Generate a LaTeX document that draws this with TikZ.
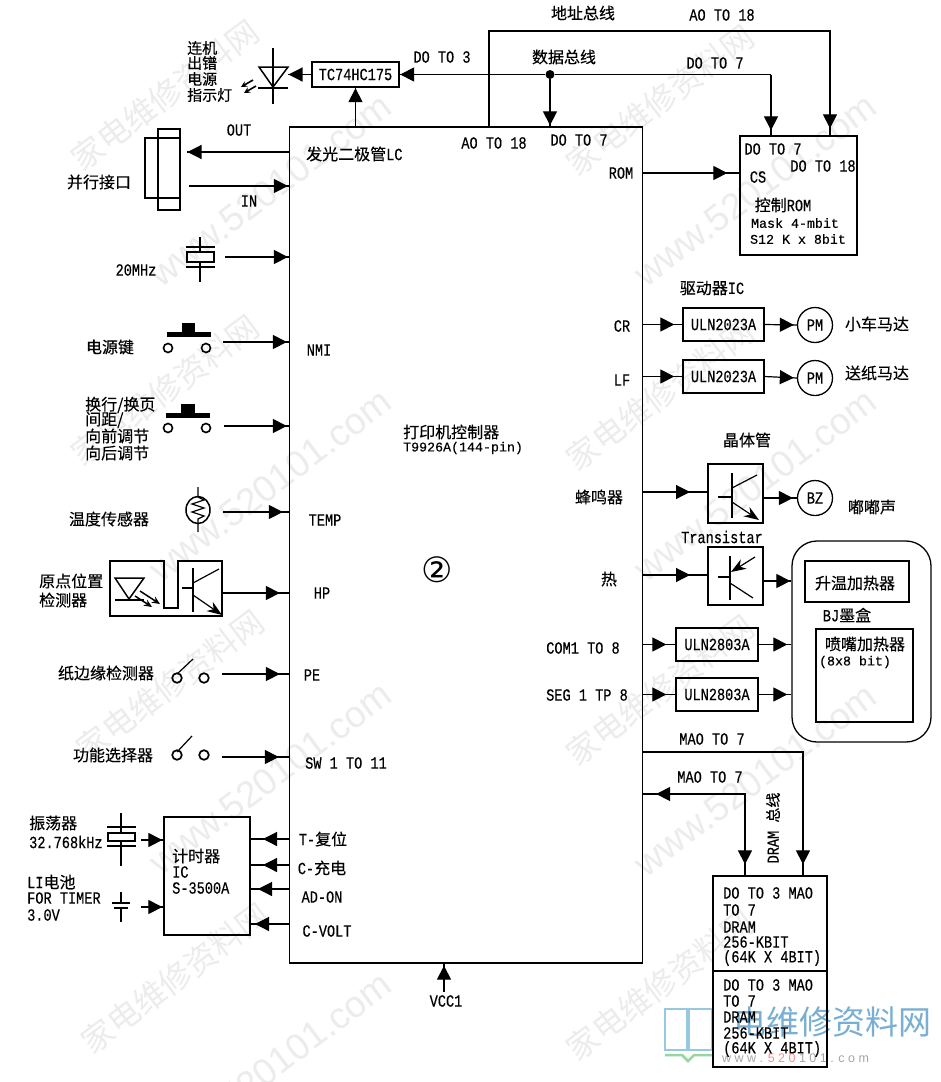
\documentclass[tikz,border=0pt]{standalone}
\usepackage{fontspec}
\setmainfont{Liberation Mono}[FakeStretch=0.8,FakeBold=0.35]
\newfontfamily\plainmono{Liberation Mono}[FakeBold=0.35]
\newfontfamily\cjk{Noto Sans CJK SC}[FakeBold=0.3]
\newfontfamily\wmcjk{Noto Sans CJK SC}
\newfontfamily\wmsans{Liberation Sans}
\newfontfamily\circfont{DejaVu Sans}
\usetikzlibrary{arrows.meta,decorations.markings,shapes.geometric}
\newcommand{\mn}{\normalfont\fontsize{17}{17}\selectfont}
\newcommand{\pmn}{\plainmono\fontsize{13.3}{14}\selectfont}
\newcommand{\zh}{\cjk\fontsize{16}{16}\selectfont}
\newcommand{\zhs}{\cjk\fontsize{15}{15}\selectfont}
\definecolor{wm}{gray}{0.925}
\definecolor{logoblue}{RGB}{150,200,225}
\definecolor{logogreen}{RGB}{150,215,160}
\definecolor{logotext}{RGB}{120,175,210}
\tikzset{
 bigtip/.tip={Triangle[length=14pt,width=14pt]},
 emtip/.tip={Stealth[length=15pt,width=11pt]},
 lbl/.style={inner sep=0pt,font=\mn},
 plbl/.style={inner sep=0pt,font=\pmn},
 zlb/.style={inner sep=0pt,font=\zh},
 llbl/.style={lbl,anchor=west},
 lzlb/.style={zlb,anchor=west},
 bx/.style={draw,line width=1.3pt,inner sep=0pt},
 conn/.style={line width=1.2pt},
 sym/.style={line width=1.2pt},
 thick bar/.style={line width=2.6pt},
 fwd/.style={postaction={decorate,decoration={markings,mark=at position #1 with {\arrow{bigtip}}}}},
 rev/.style={postaction={decorate,decoration={markings,mark=at position #1 with {\arrowreversed{bigtip}}}}},
 wmz/.style={inner sep=0pt,text=wm,rotate=37,font=\wmcjk\fontsize{32}{32}\selectfont},
 wmw/.style={inner sep=0pt,text=wm,rotate=37,font=\wmsans\fontsize{37}{37}\selectfont},
}
\begin{document}
\begin{tikzpicture}[x=1pt,y=-1pt]
\useasboundingbox (0,0) rectangle (941,1082);
\fill[white] (0,0) rectangle (941,1082);
% watermarks
\node[wmz] (wz1) at (165,95) {家电维修资料网};
\node[wmz] (wz2) at (165,390) {家电维修资料网};
\node[wmz] (wz3) at (170,685) {家电维修资料网};
\node[wmz] (wz4) at (175,978) {家电维修资料网};
\node[wmz] (wz5) at (660,100) {家电维修资料网};
\node[wmz] (wz6) at (660,395) {家电维修资料网};
\node[wmz] (wz7) at (660,690) {家电维修资料网};
\node[wmz] (wz8) at (660,985) {家电维修资料网};
\node[wmw] (ww1) at (270,190) {www.520101.com};
\node[wmw] (ww2) at (270,485) {www.520101.com};
\node[wmw] (ww3) at (270,778) {www.520101.com};
\node[wmw] (ww4) at (270,1068) {www.520101.com};
\node[wmw] (ww5) at (755,190) {www.520101.com};
\node[wmw] (ww6) at (755,485) {www.520101.com};
\node[wmw] (ww7) at (755,780) {www.520101.com};
% logo
\draw[logoblue,line width=2pt] (665,1009) rectangle (687,1050);
\draw[logoblue,line width=2pt] (689,1009) rectangle (712,1050);
\draw[logogreen,line width=2.5pt] (665,1055) -- (682,1055) -- (688,1061) -- (694,1055) -- (712,1055);
\node[inner sep=0pt,text=logotext,font=\wmcjk\fontsize{33}{33}\selectfont] (logotxt) at (832,1022) {电维修资料网};
\node[inner sep=0pt,text=black!35,font=\wmsans\fontsize{12.5}{12.5}\selectfont,anchor=west] (logourl) at (722,1058) {w w w . \textcolor{red!45}{5 2 0} 1 0 1 . c o m};

% main chip
\node[bx,minimum width=353pt,minimum height=836pt] (chip) at (466,545) {};
\node[inner sep=0pt,anchor=west,font=\zh] (chipt1) at (403,432) {打印机控制器};
\node[inner sep=0pt,anchor=west,font=\pmn] (chipt2) at (403,448) {T9926A(144-pin)};
\node[inner sep=0pt,font=\circfont\fontsize{35}{35}\selectfont] (circ2) at (437,570) {②};

% ROM
\node[bx,minimum width=117pt,minimum height=119pt] (rom) at (798.5,195.5) {};
\node[lbl] (romA) at (773,149) {DO TO 7};
\node[lbl] (romB) at (823,166) {DO TO 18};
\node[lbl] (romC) at (758,177) {CS};
\node[zlb] (romD) at (783,205) {控制\mn ROM};
\node[plbl] (romE) at (795,223) {Mask 4-mbit};
\node[plbl] (romF) at (798,239) {S12 K x 8bit};

% TC74
\node[bx,minimum width=87pt,minimum height=25pt] (tc) at (355.5,74.5) {\mn TC74HC175};
\coordinate (ledR) at (288,74.5);
\draw[conn,fwd=-0.5pt] (tc.west) -- (ledR);
\draw[conn,fwd=-0.5pt] (tc.south |- chip.north) -- (tc.south);
% LED
\draw[line width=1.5pt] (259,67) -- (288,67) -- (273,87) -- cycle;
\draw[sym] (273,48) -- (273,104);
\draw[line width=2pt] (258,88) -- (288,88);
\draw[line width=1.6pt,-{Stealth[length=6pt,width=6pt]}] (253,80) -- (241,87);
\draw[line width=1.6pt,-{Stealth[length=6pt,width=6pt]}] (256,86) -- (244,93);
\node[inner sep=0pt,anchor=west,font=\zhs] (led1) at (187,48) {连机};
\node[inner sep=0pt,anchor=west,font=\zhs] (led2) at (187,63) {出镨};
\node[inner sep=0pt,anchor=west,font=\zhs] (led3) at (187,79) {电源};
\node[inner sep=0pt,anchor=west,font=\zhs] (led4) at (187,95) {指示灯};

% data and address bus
\node[circle,fill,inner sep=0pt,minimum size=9pt] (jn) at (550,74.5) {};
\coordinate (dbC) at (771,74.5);
\draw[conn,rev=0.5pt] (tc.east) -- (jn);
\draw[conn] (jn) -- (dbC);
\draw[conn,fwd=-5pt] (dbC) -- (dbC |- rom.north);
\draw[conn,fwd=-1pt] (jn) -- (jn |- chip.north);
\coordinate (abA) at (489,31);
\coordinate (abB) at (830,31);
\draw[conn,fwd=-7pt] (abA |- chip.north) -- (abA) -- (abB) -- (abB |- rom.north);
\node[lbl] (t1) at (442,57) {DO TO 3};
\node[lbl] (t2) at (494,143) {AO TO 18};
\node[lbl] (t3) at (579,140) {DO TO 7};
\node[zlb] (t4) at (583,13) {地址总线};
\node[lbl] (t5) at (722,15) {AO TO 18};
\node[zlb] (t6) at (564,57) {数据总线};
\node[lbl] (t7) at (715,63) {DO TO 7};
\node[lbl] (t8) at (621,173) {ROM};
\coordinate (romS) at (642.5,173);
\draw[conn,fwd=-12pt] (romS) -- (romS -| rom.west);

% parallel port
\node[bx,minimum width=22pt,minimum height=81pt] (pp1) at (169,169.5) {};
\node[bx,minimum width=35pt,minimum height=60pt] (pp2) at (162.5,168) {};
\coordinate (ppo) at (187,152);
\coordinate (ppi) at (189,186);
\draw[conn,fwd=-0.5pt] (ppo -| chip.west) -- (ppo);
\draw[conn,fwd=-1pt] (ppi) -- (ppi -| chip.west);
\node[lbl] (outl) at (239,130) {OUT};
\node[lbl] (inl) at (249,201) {IN};
\node[zlb] (ppl) at (99,182) {并行接口};
\node[lzlb] (lcl) at (306,154) {发光二极管\mn LC};

% 20 MHz
\draw[sym] (200,237) -- (200,252) (200,262) -- (200,282);
\draw[line width=1.8pt] (186,247) -- (215,247) (186,267) -- (215,267);
\draw[line width=1.6pt] (187,252) rectangle (214,262);
\coordinate (xt) at (225,257);
\draw[conn,fwd=-1pt] (xt) -- (xt -| chip.west);
\node[lbl] (mhz) at (136,270) {20MHz};

% keys
\fill (167,332) rectangle (211,337);
\fill (182,323) rectangle (195,332);
\draw[line width=1.6pt] (168,348) circle (4.5) (206,348) circle (4.5);
\coordinate (k1) at (223,342);
\draw[conn,fwd=-2pt] (k1) -- (k1 -| chip.west);
\node[zlb] (k1l) at (110,347) {电源键};
\node[lbl] (nmi) at (319,350) {NMI};
\fill (166,413) rectangle (210,418);
\fill (181,404) rectangle (195,413);
\draw[line width=1.6pt] (168,428) circle (4.5) (206,428) circle (4.5);
\coordinate (k2) at (224,426);
\draw[conn,fwd=-2pt] (k2) -- (k2 -| chip.west);
\node[lzlb] (k2a) at (85,405) {换行/换页};
\node[lzlb] (k2b) at (85,420) {间距/};
\node[lzlb] (k2c) at (85,436) {向前调节};
\node[lzlb] (k2d) at (85,453) {向后调节};

% thermistor
\draw[line width=1.5pt] (198,510) ellipse (12 and 13.5);
\draw[sym] (198,487) -- (198,497) -- (204,500) -- (192,504) -- (204,508) -- (192,512) -- (204,516) -- (198,519) -- (198,532);
\coordinate (th) at (223,512);
\draw[conn,fwd=-6pt] (th) -- (th -| chip.west);
\node[zlb] (thl) at (109,519) {温度传感器};
\node[lbl] (temp) at (325,520) {TEMP};

% HP sensor
\draw[line width=1.3pt] (110,561) -- (164,561) -- (164,608) -- (178,608) -- (178,561) -- (222,561) -- (222,616) -- (110,616) -- cycle;
\draw[line width=1.5pt] (115,578) -- (144,578) -- (129,599) -- cycle;
\draw[line width=1.8pt] (115,600) -- (144,600);
\draw[line width=1.5pt,-{Stealth[length=8pt,width=7pt]}] (140,591) -- (160,604);
\draw[line width=1.5pt,-{Stealth[length=8pt,width=7pt]}] (135,596) -- (152,607);
\draw[thick bar] (193,568) -- (193,612);
\draw[sym] (182,588) -- (193,588);
\draw[sym] (193,583) -- (219,569);
\draw[sym,-emtip] (193,595) -- (222,615);
\coordinate (hp) at (222,593);
\draw[conn,fwd=-9pt] (hp) -- (hp -| chip.west);
\node[lzlb] (hpa) at (39,581) {原点位置};
\node[lzlb] (hpb) at (39,600) {检测器};
\node[lbl] (hpl) at (322,593) {HP};

% switches
\draw[line width=1.7pt] (177,678) circle (4.8) (204,678) circle (4.8);
\draw[sym] (177,674) -- (193,659);
\coordinate (pe) at (222,674);
\draw[conn,fwd=-9pt] (pe) -- (pe -| chip.west);
\node[zlb] (pel) at (106,673) {纸边缘检测器};
\node[lbl] (pet) at (312,675) {PE};
\draw[line width=1.7pt] (177,755) circle (4.8) (204,755) circle (4.8);
\draw[sym] (177,752) -- (192,736);
\coordinate (sw) at (222,757);
\draw[conn,fwd=-10pt] (sw) -- (sw -| chip.west);
\node[zlb] (swl) at (113,755) {功能选择器};
\node[llbl] (swt) at (305,763) {SW 1 TO 11};

% timer
\node[bx,minimum width=86pt,minimum height=118pt] (timer) at (207,876) {};
\node[lzlb] (tm1) at (172,856) {计时器};
\node[llbl] (tm2) at (172,872) {IC};
\node[llbl] (tm3) at (172,888) {S-3500A};
\draw[sym] (121,813) -- (121,833) (121,841) -- (121,866);
\draw[line width=1.8pt] (107,827) -- (136,827) (107,846) -- (136,846);
\draw[line width=1.6pt] (108,833) rectangle (135,841);
\coordinate (xt2) at (141,840);
\draw[conn,fwd=-1pt] (xt2) -- (xt2 -| timer.west);
\node[lzlb] (xl1) at (29,823) {振荡器};
\node[llbl] (xl2) at (29,842) {32.768kHz};
\draw[sym] (121,892) -- (121,903);
\draw[line width=1.6pt] (112,903) -- (130,903);
\draw[line width=1.6pt] (114,908) -- (128,908);
\draw[sym] (121,908) -- (121,922);
\coordinate (bt) at (141,907);
\draw[conn,fwd=-1pt] (bt) -- (bt -| timer.west);
\node[lzlb] (bl1) at (27,882) {\mn LI\zh 电池};
\node[llbl] (bl2) at (27,898) {FOR TIMER};
\node[llbl] (bl3) at (27,915) {3.0V};
\coordinate (r1) at (250,839);
\coordinate (r2) at (250,865);
\coordinate (r3) at (250,889);
\coordinate (r4) at (250,924);
\draw[conn,fwd=-13pt] (r1 -| chip.west) -- (r1);
\draw[conn,fwd=-13pt] (r2 -| chip.west) -- (r2);
\draw[conn,fwd=-8pt] (r3 -| chip.west) -- (r3);
\draw[conn,fwd=-5pt] (r4 -| chip.west) -- (r4);
\node[zlb] (rl1) at (323,839) {\mn T-\zh 复位};
\node[zlb] (rl2) at (322,868) {\mn C-\zh 充电};
\node[lbl] (rl3) at (322,897) {AD-ON};
\node[lbl] (rl4) at (327,931) {C-VOLT};

% VCC
\coordinate (vc) at (444,992);
\draw[conn,fwd=-2pt] (vc) -- (vc |- chip.south);
\node[lbl] (vcl) at (446,1001) {VCC1};

% motor drivers
\node[zlb] (drv) at (712,288) {驱动器\mn IC};
\node[bx,minimum width=81pt,minimum height=33pt] (u1) at (723.5,324.5) {\mn ULN2023A};
\node[bx,minimum width=81pt,minimum height=33pt] (u2) at (723.5,376.5) {\mn ULN2023A};
\node[bx,circle,minimum size=35pt] (pm1) at (815,325) {\mn PM};
\node[bx,circle,minimum size=35pt] (pm2) at (815,378) {\mn PM};
\draw[conn,fwd=-8pt] (chip.east |- u1.west) -- (u1.west);
\draw[conn,fwd=-8pt] (chip.east |- u2.west) -- (u2.west);
\draw[conn,fwd=-3pt] (u1.east) -- (pm1.west);
\draw[conn,fwd=-3pt] (u2.east) -- (pm2.west);
\node[lbl] (crl) at (622,326) {CR};
\node[lbl] (lfl) at (622,380) {LF};
\node[inner sep=0pt,font=\zh] (m1) at (877,324) {小车马达};
\node[inner sep=0pt,font=\zh] (m2) at (877,373) {送纸马达};

% transistors
\node[zlb] (jt) at (747,440) {晶体管};
\node[bx,minimum width=55pt,minimum height=59pt] (q1) at (735.5,493.5) {};
\draw[thick bar] (732,473) -- (732,518);
\draw[sym] (718,497) -- (732,497);
\draw[sym] (732,488) -- (757,475);
\draw[sym,-emtip] (732,502) -- (759,520);
\node[bx,circle,minimum size=35pt] (bz) at (815,498) {\mn BZ};
\coordinate (q1i) at (708,492);
\draw[conn,fwd=-18pt] (q1i -| chip.east) -- (q1i);
\coordinate (q1o) at (763,498);
\draw[conn,fwd=-4pt] (q1o) -- (bz.west);
\node[zlb] (bzl) at (599,497) {蜂鸣器};
\node[zlb] (bzs) at (872,507) {嘟嘟声};
\node[lbl] (trl) at (722,537) {Transistar};
\node[bx,minimum width=55pt,minimum height=58pt] (q2) at (735.5,576) {};
\draw[thick bar] (730,556) -- (730,600);
\draw[sym] (718,577) -- (730,577);
\draw[sym,emtip-] (731,572) -- (755,557);
\draw[sym] (730,583) -- (753,598);

% cartridge
\node[bx,rounded corners=25pt,minimum width=139pt,minimum height=201pt] (bj) at (861.5,641.5) {};
\node[bx,minimum width=104pt,minimum height=41pt] (ht) at (857,581.5) {};
\node[zlb] (htl) at (855,583) {升温加热器};
\node[zlb] (bjl) at (847,615) {\mn BJ\zh 墨盒};
\node[bx,minimum width=97pt,minimum height=93pt] (nz) at (864.5,675.5) {};
\node[zlb] (nzl) at (865,644) {喷嘴加热器};
\node[plbl] (nzs) at (855,662) {(8x8 bit)};
\coordinate (q2i) at (708,575);
\draw[conn,fwd=-18pt] (q2i -| chip.east) -- (q2i);
\coordinate (q2o) at (763,581);
\draw[conn,fwd=-1pt] (q2o) -- (q2o -| bj.west);
\node[zlb] (hot) at (609,579) {热};
\node[bx,minimum width=82pt,minimum height=33pt] (u3) at (717,644.5) {\mn ULN2803A};
\node[bx,minimum width=82pt,minimum height=33pt] (u4) at (717,694.5) {\mn ULN2803A};
\draw[conn,fwd=-9pt] (u3.west -| chip.east) -- (u3.west);
\draw[conn,fwd=-9pt] (u4.west -| chip.east) -- (u4.west);
\draw[conn,fwd=-4pt] (u3.east) -- (u3.east -| bj.west);
\draw[conn,fwd=-4pt] (u4.east) -- (u4.east -| bj.west);
\node[lbl] (coml) at (583,648) {COM1 TO 8};
\node[lbl] (segl) at (587,695) {SEG 1 TP 8};

% DRAM
\node[bx,minimum width=114pt,minimum height=95pt] (dr1) at (770,923.5) {};
\node[bx,minimum width=114pt,minimum height=96pt] (dr2) at (770,1019) {};
\coordinate (db1) at (803,752);
\coordinate (db2) at (745,794);
\draw[conn,fwd=-11pt] (db1 -| chip.east) -- (db1) -- (db1 |- dr1.north);
\draw[conn,rev=13pt,fwd=-11pt] (db2 -| chip.east) -- (db2) -- (db2 |- dr1.north);
\node[lbl] (da) at (712,739) {MAO TO 7};
\node[lbl] (db) at (710,777) {MAO TO 7};
\node[inner sep=0pt,rotate=90,font=\mn] (dbus) at (773,828) {DRAM \zhs 总线};
\node[llbl] (d11) at (723,893) {DO TO 3 MAO};
\node[llbl] (d12) at (723,910) {TO 7};
\node[llbl] (d13) at (723,927) {DRAM};
\node[llbl] (d14) at (723,942) {256-KBIT};
\node[llbl] (d15) at (723,958) {(64K X 4BIT)};
\node[llbl] (d21) at (723,985) {DO TO 3 MAO};
\node[llbl] (d22) at (723,1001) {TO 7};
\node[llbl] (d23) at (723,1017) {DRAM};
\node[llbl] (d24) at (723,1033) {256-KBIT};
\node[llbl] (d25) at (723,1049) {(64K X 4BIT)};
\end{tikzpicture}
\end{document}
